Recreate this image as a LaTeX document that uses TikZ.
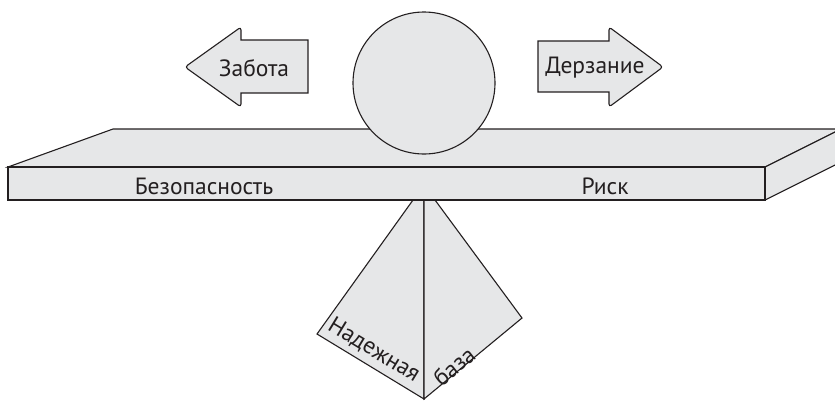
\documentclass[tikz,border=0pt]{standalone}
\usepackage{fontspec}
\setmainfont{PT Sans}
\definecolor{ink}{HTML}{231F20}
\definecolor{face}{HTML}{E6E7E8}
\begin{document}
\begin{tikzpicture}[x=1pt,y=-1pt,
  solid part/.style={draw=ink,fill=face,line width=1.1pt,line join=miter},
  lbl/.style={font=\fontsize{23.5}{26}\selectfont,text=ink,inner sep=0pt}]
\useasboundingbox (0,0) rectangle (835,400);
\begin{scope}
\clip (0,0) rectangle (835,400);
% pyramid
\draw[solid part] (413,200) -- (317,334) -- (424,399) -- (424,200) -- cycle;
\draw[solid part] (424,200) -- (435,200) -- (522,318) -- (424,399) -- cycle;
% plank
\draw[solid part] (8,167) -- (113,129) -- (841,129) -- (765,167) -- cycle;
\draw[solid part] (765,167) -- (841,129) -- (841,162) -- (765,200) -- cycle;
\draw[solid part] (8,167) rectangle (765,200);
% ball
\draw[solid part] (424,83) circle[radius=71];
% arrows
\draw[solid part] (308,40) -- (241,40) [rounded corners=3pt] -- (241,27) -- (185,67) -- (241,107) [sharp corners] -- (241,93) -- (308,93) -- cycle;
\draw[solid part] (538,41) -- (609,41) [rounded corners=3pt] -- (609,27) -- (663,67) -- (609,107) [sharp corners] -- (609,92) -- (538,92) -- cycle;
\end{scope}
% labels
\node[lbl] (safe) at (204,186) {Безопасность};
\node[lbl] (risk) at (605,186) {Риск};
\node[lbl] (care) at (254,68) {Забота};
\node[lbl] (dare) at (595,68) {Дерзание};
\node[lbl,rotate=-31.3] (base1) at (374,350) {Надежная};
\node[lbl,rotate=39.6] (base2) at (454,366) {база};
\end{tikzpicture}
\end{document}
